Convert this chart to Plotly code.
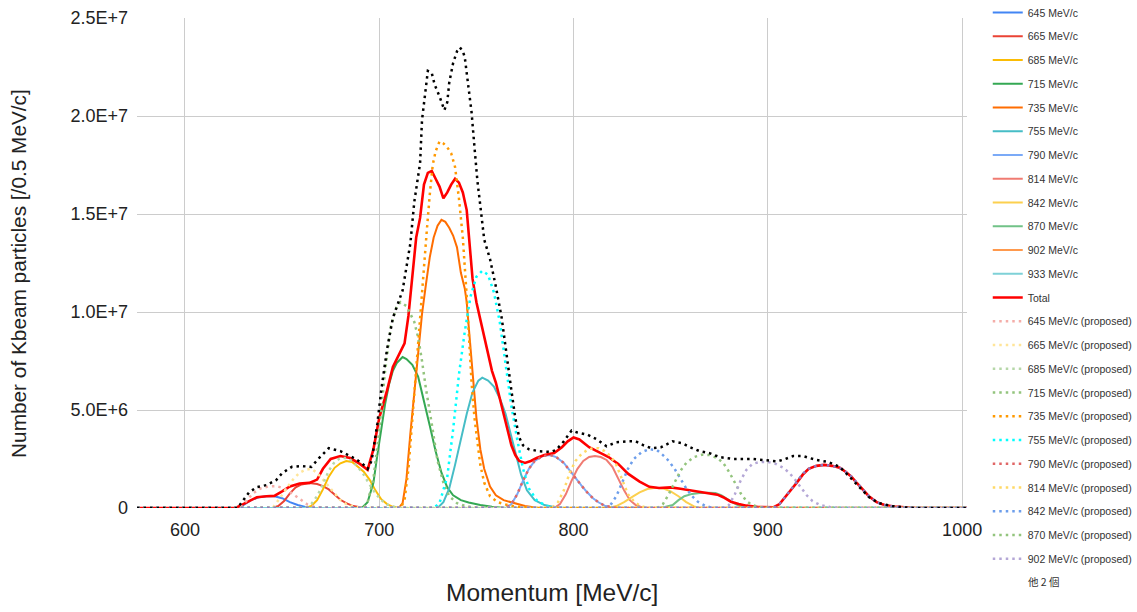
import plotly.graph_objects as go

M = 1e6
X_MIN, X_MAX = 575.3, 1002.5

# ---- solid series (values in units of 1e6) ----
s645_x = [627, 630, 634, 638, 642, 646, 650, 654, 658, 662, 666]
s645_y = [0, 0.15, 0.4, 0.55, 0.6, 0.6, 0.5, 0.3, 0.15, 0.05, 0]

s665_x = [645, 648, 651, 654, 657, 660, 664, 668, 671, 674, 677, 680, 683, 686, 690, 694]
s665_y = [0, 0.1, 0.35, 0.75, 1.05, 1.2, 1.27, 1.22, 1.12, 0.95, 0.7, 0.42, 0.25, 0.12, 0.04, 0]

s685_x = [662, 665, 668, 671, 674, 677, 680, 683, 686, 689, 692, 695, 698, 701, 704, 707, 711]
s685_y = [0, 0.1, 0.4, 0.95, 1.6, 2.05, 2.28, 2.4, 2.35, 2.1, 1.85, 1.45, 0.9, 0.45, 0.2, 0.06, 0]

s715_x = [691, 694, 697, 699, 701, 703, 705, 707, 709, 712, 714, 717, 720, 723, 726, 729, 732, 735, 738, 742, 746, 752, 758, 765]
s715_y = [0, 0.3, 1.3, 2.7, 4.0, 5.3, 6.3, 7.0, 7.4, 7.7, 7.6, 7.3, 6.7, 5.5, 4.2, 2.9, 1.8, 1.05, 0.65, 0.4, 0.28, 0.15, 0.06, 0]

s735_x = [710, 712, 714, 716, 718, 720, 722, 724, 726, 728, 730, 732, 734, 736, 738, 740, 742, 744, 745, 746, 748, 750, 752, 754, 757, 760, 764, 769, 775, 782]
s735_y = [0, 0.25, 1.5, 3.8, 5.9, 8.0, 9.9, 11.4, 12.8, 13.8, 14.4, 14.7, 14.6, 14.3, 13.9, 13.3, 12.0, 11.2, 10.5, 9.3, 6.8, 4.6, 3.0, 2.0, 1.1, 0.65, 0.4, 0.25, 0.1, 0]

s755_x = [730, 733, 736, 739, 742, 745, 748, 751, 753, 756, 759, 762, 765, 767, 769, 771, 773, 776, 780, 785, 790, 795]
s755_y = [0, 0.3, 1.0, 2.2, 3.5, 4.8, 5.9, 6.5, 6.65, 6.5, 6.2, 5.6, 4.8, 4.0, 3.2, 2.4, 1.7, 0.9, 0.4, 0.15, 0.05, 0]

s790_x = [765, 768, 771, 774, 777, 780, 784, 788, 791, 795, 798, 801, 804, 807, 810, 813, 816, 820, 824]
s790_y = [0, 0.2, 0.7, 1.4, 2.0, 2.4, 2.65, 2.7, 2.6, 2.3, 1.9, 1.55, 1.15, 0.8, 0.5, 0.28, 0.12, 0.03, 0]

s814_x = [790, 793, 796, 799, 802, 805, 808, 811, 814, 817, 820, 823, 826, 829, 832, 836]
s814_y = [0, 0.2, 0.7, 1.4, 2.0, 2.4, 2.6, 2.65, 2.6, 2.45, 2.1, 1.5, 0.9, 0.4, 0.15, 0]

s842_x = [818, 822, 826, 830, 834, 838, 842, 846, 850, 854, 858, 862, 865]
s842_y = [0, 0.1, 0.3, 0.55, 0.8, 0.97, 1.03, 1.0, 0.85, 0.6, 0.3, 0.08, 0]

s870_x = [844, 847, 851, 854, 857, 861, 865, 869, 873, 876, 879, 882, 885, 889]
s870_y = [0, 0.05, 0.15, 0.4, 0.6, 0.72, 0.77, 0.78, 0.76, 0.65, 0.45, 0.28, 0.12, 0]

s902_x = [900]
s902_y = [0]

s933_x = [903, 906, 909, 912, 915, 918, 921, 925, 929, 933, 937, 940, 943, 946, 949, 952, 956, 960, 965, 970, 976]
s933_y = [0, 0.2, 0.55, 0.95, 1.35, 1.75, 2.0, 2.15, 2.2, 2.15, 2.05, 1.85, 1.6, 1.25, 0.9, 0.6, 0.3, 0.15, 0.07, 0.02, 0]

total_x = [626, 629, 632, 637, 642, 646, 650, 654, 659, 664, 668, 671, 675, 680, 685, 690, 694, 697, 700, 704, 707,
           710, 713, 715, 717, 719, 721, 723, 725, 727, 729, 731, 733, 735, 737, 739, 741, 743, 745, 746.5, 748, 750,
           752, 755, 758, 760, 762, 764, 766, 768, 770, 772, 775, 778, 781, 785, 790, 794, 797, 800, 803, 808, 813,
           818, 823, 828, 834, 839, 844, 850, 855, 860, 865, 870, 874, 877, 881, 885, 889, 895, 903, 906, 909, 912,
           915, 918, 921, 925, 929, 933, 937, 940, 943, 946, 949, 952, 956, 960, 965, 970, 976]
total_y = [0, 0.15, 0.3, 0.55, 0.6, 0.62, 0.85, 1.1, 1.25, 1.28, 1.45, 2.0, 2.5, 2.65, 2.55, 2.25, 1.95, 3.0, 4.6, 6.0, 7.2,
           7.8, 8.4, 9.8, 11.8, 13.8, 14.8, 16.5, 17.1, 17.2, 16.8, 16.4, 15.8, 16.1, 16.5, 16.8, 16.6, 16.1, 15.2, 13.5, 11.7, 10.5,
           9.6, 8.4, 7.0, 6.4, 5.6, 4.8, 4.0, 3.2, 2.7, 2.4, 2.3, 2.4, 2.55, 2.7, 2.8, 3.1, 3.4, 3.6, 3.5, 3.1, 2.85,
           2.6, 2.25, 1.75, 1.35, 1.08, 1.02, 1.05, 0.98, 0.9, 0.82, 0.77, 0.68, 0.55, 0.32, 0.2, 0.12, 0.05, 0.04, 0.2, 0.55, 0.95,
           1.3, 1.7, 2.0, 2.15, 2.2, 2.15, 2.05, 1.85, 1.6, 1.25, 0.9, 0.6, 0.3, 0.15, 0.08, 0.03, 0]

# ---- proposed series ----
p645_x = [628, 631, 635, 639, 643, 647, 651, 655, 659, 663, 667, 671]
p645_y = [0, 0.3, 0.75, 1.0, 1.1, 1.12, 1.0, 0.75, 0.45, 0.18, 0.05, 0]

p665_x = [645, 647, 650, 653, 656, 659, 662, 665, 668, 671, 674, 677, 680, 683, 687, 691]
p665_y = [0, 0.25, 0.7, 1.1, 1.5, 1.8, 1.95, 2.0, 1.8, 1.45, 1.1, 0.75, 0.4, 0.2, 0.07, 0]

p685_x = [662, 665, 668, 671, 674, 677, 680, 683, 686, 689, 692, 695, 698, 701, 704, 708, 712]
p685_y = [0, 0.2, 0.6, 1.2, 1.9, 2.35, 2.55, 2.55, 2.4, 2.1, 1.7, 1.2, 0.75, 0.4, 0.18, 0.05, 0]

p715_x = [692, 694, 697, 700, 703, 706, 709, 711, 714, 718, 720, 722, 724, 727, 730, 733, 736, 740, 745, 752]
p715_y = [0, 0.3, 1.5, 4.0, 7.0, 9.3, 10.3, 10.5, 10.3, 9.5, 8.7, 7.5, 6.1, 4.3, 2.4, 1.3, 0.6, 0.25, 0.08, 0]

p735_x = [711, 713, 715, 717, 719, 721, 722, 723, 724.5, 726, 727.5, 729, 731, 733, 735, 737, 739, 741, 743, 745, 746,
          747.5, 749, 750.5, 752, 754, 757, 761, 766, 772, 778]
p735_y = [0, 0.4, 2.0, 4.5, 7.2, 9.6, 11.0, 12.5, 14.2, 16.0, 17.5, 18.2, 18.7, 18.6, 18.4, 18.1, 17.4, 15.8, 13.8, 10.8, 9.0,
          6.4, 4.6, 3.3, 2.2, 1.3, 0.6, 0.3, 0.15, 0.05, 0]

p755_x = [728, 731, 735, 738, 741, 744, 747, 750, 753, 756, 759, 762, 765, 768, 771, 774, 777, 781, 786, 792]
p755_y = [0, 0.25, 1.6, 4.0, 6.8, 9.0, 10.8, 11.8, 12.1, 11.9, 11.0, 9.5, 7.2, 5.2, 3.5, 2.0, 1.0, 0.4, 0.1, 0]

p790_x = [765, 768, 771, 774, 777, 780, 784, 788, 791, 795, 798, 801, 804, 807, 810, 813, 816, 820, 824]
p790_y = [0, 0.2, 0.7, 1.4, 2.0, 2.4, 2.65, 2.7, 2.6, 2.3, 1.9, 1.55, 1.15, 0.8, 0.5, 0.28, 0.12, 0.03, 0]

p814_x = [789, 792, 795, 798, 801, 804, 807, 810, 813, 816, 819, 822, 824, 826, 828, 831, 834, 838]
p814_y = [0, 0.3, 0.9, 1.8, 2.4, 2.75, 2.95, 3.06, 3.05, 2.9, 2.65, 2.2, 1.7, 1.2, 0.7, 0.35, 0.12, 0]

p842_x = [816, 819, 822, 825, 828, 831, 835, 839, 843, 846, 849, 852, 855, 858, 861, 864, 868, 872]
p842_y = [0, 0.15, 0.6, 1.3, 2.0, 2.5, 2.85, 3.0, 2.95, 2.7, 2.4, 2.0, 1.5, 1.0, 0.6, 0.32, 0.1, 0]

p870_x = [843, 846, 849, 852, 855, 858, 862, 866, 870, 874, 877, 880, 883, 886, 889, 892, 896, 900]
p870_y = [0, 0.2, 0.7, 1.3, 1.9, 2.3, 2.6, 2.72, 2.7, 2.55, 2.3, 1.85, 1.3, 0.75, 0.35, 0.15, 0.03, 0]

p902_x = [877, 880, 883, 886, 889, 892, 896, 900, 904, 908, 911, 914, 917, 920, 923, 927, 932, 937]
p902_y = [0, 0.15, 0.7, 1.4, 1.95, 2.25, 2.35, 2.35, 2.25, 2.05, 1.8, 1.45, 1.05, 0.65, 0.35, 0.15, 0.05, 0]

p933_x = [903, 906, 909, 912, 915, 918, 921, 925, 929, 933, 937, 940, 943, 946, 949, 952, 956, 960, 965, 970, 976]
p933_y = [0, 0.2, 0.55, 0.95, 1.35, 1.75, 2.0, 2.15, 2.2, 2.15, 2.05, 1.85, 1.6, 1.25, 0.9, 0.6, 0.3, 0.15, 0.07, 0.02, 0]

ptot_x = [627, 630, 633, 637, 642, 647, 650, 655, 660, 665, 669, 674, 680, 686, 691, 694, 696, 697, 699, 701, 704, 707,
          710, 712, 714, 716, 718, 721, 722, 724, 725, 727, 728.5, 731, 733.5, 735, 736, 738, 740, 741.5, 743, 744,
          745.5, 747.5, 749, 750.5, 752.5, 754, 757, 760, 763, 765.5, 768, 770, 772, 774, 777, 782, 788, 791, 795,
          799, 802, 807, 812, 817, 822, 828, 832, 836, 840, 845, 851, 856, 860, 865, 870, 875, 882, 892, 899, 905,
          909, 913, 918, 925, 931, 937, 942, 947, 952, 957, 964, 970, 976]
ptot_y = [0, 0.4, 0.8, 1.07, 1.17, 1.43, 1.78, 2.1, 2.14, 2.1, 2.55, 3.05, 2.9, 2.6, 2.3, 2.0, 2.4, 3.0, 4.3, 6.0, 8.1, 9.7,
          10.6, 11.1, 12.3, 13.5, 15.6, 17.6, 19.8, 21.7, 22.3, 22.2, 21.6, 21.0, 20.3, 20.7, 21.7, 22.7, 23.3, 23.5, 23.3, 23.0,
          21.8, 20.2, 18.4, 16.7, 15.0, 13.7, 12.7, 11.3, 9.7, 7.7, 6.0, 4.6, 3.6, 3.2, 3.0, 2.9, 2.86, 2.96, 3.4,
          3.95, 3.85, 3.75, 3.5, 3.15, 3.35, 3.4, 3.4, 3.2, 3.05, 3.1, 3.4, 3.3, 3.1, 2.9, 2.8, 2.6, 2.5, 2.5, 2.45, 2.38,
          2.5, 2.65, 2.65, 2.45, 2.35, 2.1, 1.6, 1.07, 0.56, 0.25, 0.1, 0.03, 0]

series = [
    ("645 MeV/c", s645_x, s645_y, "#4285F4", "solid", 2),
    ("665 MeV/c", s665_x, s665_y, "#EA4335", "solid", 2),
    ("685 MeV/c", s685_x, s685_y, "#FBBC04", "solid", 2),
    ("715 MeV/c", s715_x, s715_y, "#34A853", "solid", 2),
    ("735 MeV/c", s735_x, s735_y, "#FF6D01", "solid", 2),
    ("755 MeV/c", s755_x, s755_y, "#46BDC6", "solid", 2),
    ("790 MeV/c", s790_x, s790_y, "#7BAAF7", "solid", 2),
    ("814 MeV/c", s814_x, s814_y, "#F07B72", "solid", 2),
    ("842 MeV/c", s842_x, s842_y, "#FCD04F", "solid", 2),
    ("870 MeV/c", s870_x, s870_y, "#71C287", "solid", 2),
    ("902 MeV/c", s902_x, s902_y, "#FF994D", "solid", 2),
    ("933 MeV/c", s933_x, s933_y, "#7ED1D7", "solid", 2),
    ("Total", total_x, total_y, "#FF0000", "solid", 2.6),
    ("645 MeV/c (proposed)", p645_x, p645_y, "#F4ADA8", "dot", 2.5),
    ("665 MeV/c (proposed)", p665_x, p665_y, "#FFE599", "dot", 2.5),
    ("685 MeV/c (proposed)", p685_x, p685_y, "#B6D7A8", "dot", 2.5),
    ("715 MeV/c (proposed)", p715_x, p715_y, "#93C47D", "dot", 2.5),
    ("735 MeV/c (proposed)", p735_x, p735_y, "#FF9900", "dot", 2.5),
    ("755 MeV/c (proposed)", p755_x, p755_y, "#00FFFF", "dot", 2.5),
    ("790 MeV/c (proposed)", p790_x, p790_y, "#E06666", "dot", 2.5),
    ("814 MeV/c (proposed)", p814_x, p814_y, "#FFD966", "dot", 2.5),
    ("842 MeV/c (proposed)", p842_x, p842_y, "#6D9EEB", "dot", 2.5),
    ("870 MeV/c (proposed)", p870_x, p870_y, "#93C47D", "dot", 2.5),
    ("902 MeV/c (proposed)", p902_x, p902_y, "#B4A7D6", "dot", 2.5),
    ("933 MeV/c (proposed)", p933_x, p933_y, "#8E7CC3", "dot", 2.5),
    ("Total (proposed)", ptot_x, ptot_y, "#000000", "dot", 2.5),
]
LEGEND_SHOWN = 24  # remaining entries are summarised as "他 2 個"

fig = go.Figure()
for i, (name, xs, ys, color, dash, w) in enumerate(series):
    x = [X_MIN] + list(xs) + [X_MAX]
    y = [0] + [v * M for v in ys] + [0]
    fig.add_trace(go.Scatter(
        x=x, y=y, mode="lines", name=name,
        line=dict(color=color, width=w, dash=("2.5px,4px" if dash == "dot" else "solid")),
        legendgroup=f"g{i}", showlegend=i < LEGEND_SHOWN,
        hoverinfo="skip",
    ))

font = "Liberation Sans, Arial, sans-serif"
ytick_vals = [0, 5e6, 1e7, 1.5e7, 2e7, 2.5e7]
ytick_text = ["0", "5.0E+6", "1.0E+7", "1.5E+7", "2.0E+7", "2.5E+7"]
xtick_vals = [600, 700, 800, 900, 1000]

fig.update_layout(
    width=1137, height=612,
    margin=dict(l=137, r=170, t=18, b=104, autoexpand=False),
    paper_bgcolor="white", plot_bgcolor="white",
    font=dict(family=font, color="#222222"),
    xaxis=dict(range=[X_MIN, X_MAX], tickvals=xtick_vals, showgrid=True, gridcolor="#cccccc",
               gridwidth=1, zeroline=False, showline=False, ticks="",
               tickfont=dict(size=18, color="#222222"), ticklabelstandoff=9),
    yaxis=dict(range=[0, 2.5e7], tickvals=ytick_vals, ticktext=ytick_text, showgrid=True,
               gridcolor="#cccccc", gridwidth=1, zeroline=False, showline=False, ticks="",
               tickfont=dict(size=18, color="#222222"), ticklabelstandoff=8),
    legend=dict(x=1.025, xanchor="left", y=1.0408, yanchor="top",
                font=dict(size=10.5, color="#333333", family=font),
                tracegroupgap=4.75, itemwidth=30, bgcolor="rgba(0,0,0,0)", maxheight=612),
    showlegend=True,
    annotations=[
        dict(text="Momentum [MeV/c]", xref="paper", yref="paper", x=0.5, y=-0.172,
             xanchor="center", yanchor="middle", showarrow=False,
             font=dict(size=24.5, color="#222222", family=font)),
        dict(text="Number of Kbeam particles [/0.5 MeV/c]", xref="paper", yref="paper",
             x=-0.142, y=0.478, xanchor="center", yanchor="middle", textangle=-90, showarrow=False,
             font=dict(size=20.8, color="#222222", family=font)),
        dict(text="他 2 個", xref="paper", yref="paper", x=1.0715, y=-0.151,
             xanchor="left", yanchor="middle", showarrow=False,
             font=dict(size=10.5, color="#333333", family="Noto Sans CJK JP, " + font)),
    ],
)

fig.write_html("out.html")
